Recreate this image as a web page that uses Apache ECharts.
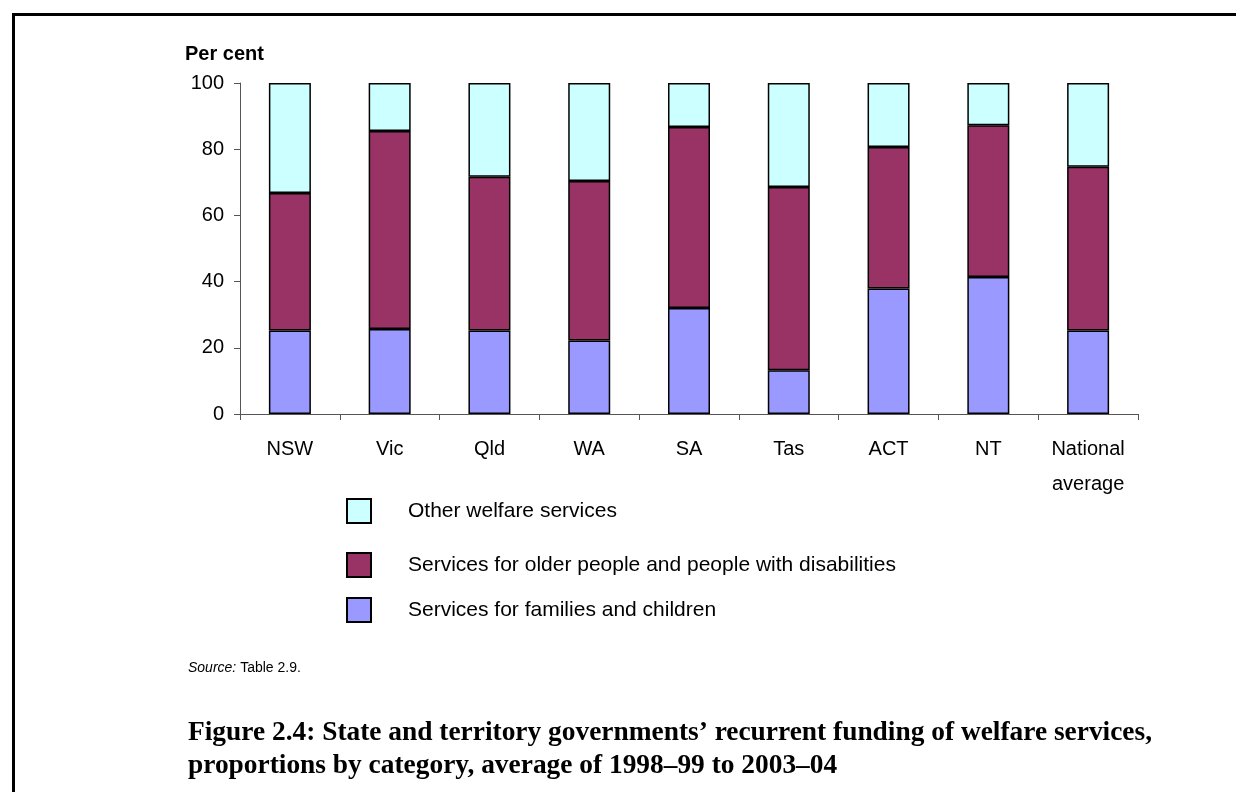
<!DOCTYPE html>
<html>
<head>
<meta charset="utf-8">
<script src="https://cdn.jsdelivr.net/npm/echarts@6/dist/echarts.min.js"></script>
<style>
  html, body { margin: 0; padding: 0; background: #fff; }
  #chart { width: 1236px; height: 792px; }
</style>
</head>
<body>
<div id="chart"></div>
<script>
// Jurisdictions along the x axis
const categories = ['NSW', 'Vic', 'Qld', 'WA', 'SA', 'Tas', 'ACT', 'NT', 'National\naverage'];
// Share of recurrent funding (per cent), stacked bottom to top
const familiesChildren = [25.2, 25.7, 25.2, 22.2, 32.0, 13.2, 37.9, 41.4, 25.2];
const olderDisability = [41.6, 59.8, 46.5, 48.2, 54.7, 55.4, 42.8, 45.8, 49.5];
const otherWelfare = [33.2, 14.5, 28.3, 29.6, 13.3, 31.4, 19.3, 12.8, 25.3];
const yTicks = [0, 20, 40, 60, 80, 100];

const seriesNames = {
  families: 'Services for families and children',
  older: 'Services for older people and people with disabilities',
  other: 'Other welfare services'
};

const FONT = '"Liberation Sans", Arial, sans-serif';
const SERIF = '"Liberation Serif", "Times New Roman", serif';

function barSeries(name, data, color) {
  return {
    name: name,
    type: 'bar',
    stack: 'total',
    data: data,
    barWidth: 42,
    itemStyle: { color: color, borderColor: '#000', borderWidth: 1.5 },
    emphasis: { disabled: true }
  };
}

// One legend block per row so each row can sit at its own height
function legendRow(name, top) {
  return {
    data: [name],
    left: 341,
    top: top,
    orient: 'vertical',
    icon: 'rect',
    itemWidth: 24,
    itemHeight: 24,
    selectedMode: false,
    textStyle: { fontFamily: FONT, fontSize: 21, color: '#000', padding: [0, 0, 0, 32] }
  };
}

const chart = echarts.init(document.getElementById('chart'), null, { renderer: 'canvas' });
chart.setOption({
  animation: false,
  backgroundColor: '#fff',
  grid: { left: 240, right: 98, top: 83, bottom: 378, containLabel: false },
  xAxis: {
    type: 'category',
    data: categories,
    axisLine: { lineStyle: { color: '#555', width: 1 } },
    axisTick: { show: true, length: 6, lineStyle: { color: '#555' } },
    axisLabel: { fontFamily: FONT, fontSize: 20, color: '#000', margin: 18, lineHeight: 35 }
  },
  yAxis: {
    type: 'value',
    min: 0,
    max: 100,
    interval: 20,
    splitLine: { show: false },
    axisLine: { show: true, lineStyle: { color: '#555', width: 1 } },
    axisTick: { show: true, length: 6, lineStyle: { color: '#555' } },
    axisLabel: {
      fontFamily: FONT, fontSize: 20, color: '#000', margin: 16,
      formatter: function (v) { return yTicks.indexOf(v) >= 0 ? String(v) : ''; }
    }
  },
  legend: [
    legendRow(seriesNames.other, 493),
    legendRow(seriesNames.older, 547),
    legendRow(seriesNames.families, 592)
  ],
  title: [
    {
      text: 'Per cent',
      left: 185, top: 44, padding: 0,
      textStyle: { fontFamily: FONT, fontSize: 20, fontWeight: 'bold', color: '#000' }
    },
    {
      text: '{i|Source:} Table 2.9.',
      left: 188, top: 661, padding: 0,
      textStyle: {
        fontFamily: FONT, fontSize: 14, fontWeight: 'normal', color: '#000',
        rich: {
          i: { fontFamily: FONT, fontSize: 14, fontStyle: 'italic', fontWeight: 'normal', color: '#000' }
        }
      }
    },
    {
      text: 'Figure 2.4: State and territory governments\u2019 recurrent funding of welfare services,\nproportions by category, average of 1998\u201399 to 2003\u201304',
      left: 188, top: 716, padding: 0,
      textStyle: { fontFamily: SERIF, fontSize: 27.4, fontWeight: 'bold', color: '#000', lineHeight: 33 }
    }
  ],
  graphic: [
    {
      type: 'rect',
      shape: { x: 13.5, y: 14.5, width: 1300, height: 900 },
      style: { fill: null, stroke: '#000', lineWidth: 3 },
      silent: true
    }
  ],
  series: [
    barSeries(seriesNames.families, familiesChildren, '#9999FF'),
    barSeries(seriesNames.older, olderDisability, '#993366'),
    barSeries(seriesNames.other, otherWelfare, '#CCFFFF')
  ]
});
</script>
</body>
</html>
